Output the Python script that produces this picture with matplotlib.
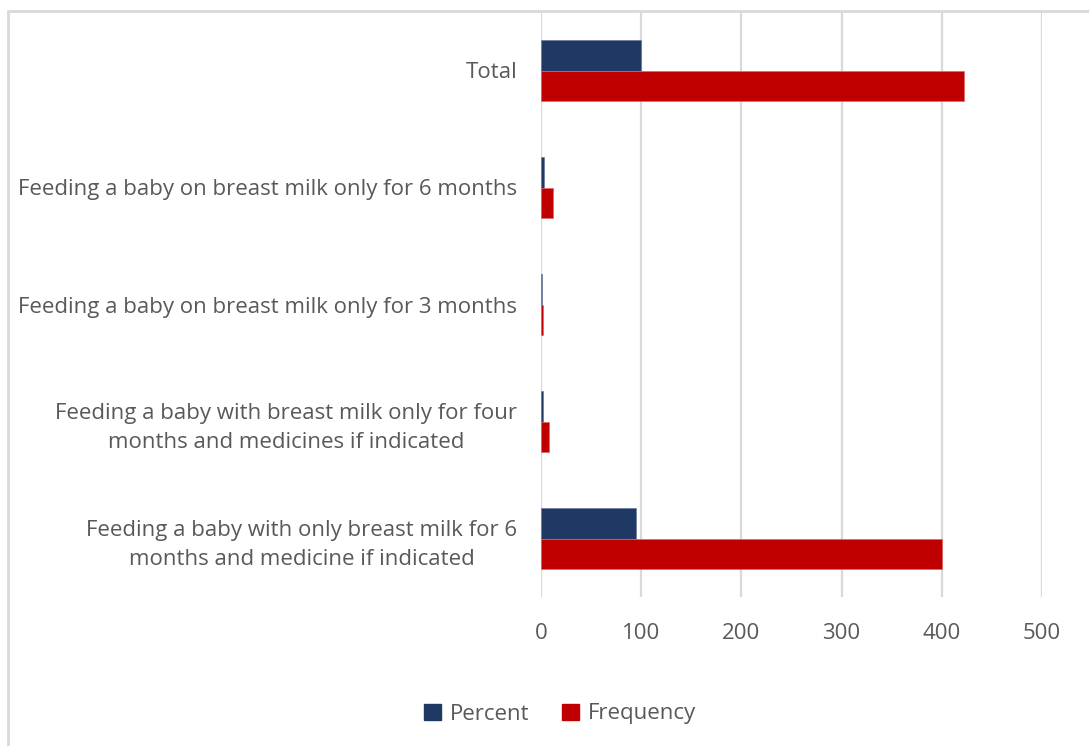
import matplotlib
matplotlib.use('Agg')
import matplotlib.pyplot as plt
import matplotlib.patches as mpatches
import numpy as np

plt.rcParams['font.family'] = ['Open Sans', 'DejaVu Sans']

# categories listed bottom to top
categories = [
    'Feeding a baby with only breast milk for 6\nmonths and medicine if indicated',
    'Feeding a baby with breast milk only for four\nmonths and medicines if indicated',
    'Feeding a baby on breast milk only for 3 months',
    'Feeding a baby on breast milk only for 6 months',
    'Total',
]
frequency = [400, 8, 2, 12, 422]
percent = [94.8, 1.9, 0.5, 2.8, 100]
xticks = [0, 100, 200, 300, 400, 500]

navy = '#203864'
red = '#c00000'
txt = '#595959'
grid = '#d9d9d9'
fs = 16

fig = plt.figure(figsize=(10.89, 7.46), dpi=100)
ax = fig.add_axes([541 / 1089, (746 - 597) / 746, 501 / 1089, 585 / 746])

y = np.arange(len(categories))
h = 0.262
ax.barh(y + h / 2, percent, height=h, color=navy, edgecolor='#6b7ba0', linewidth=0.5, zorder=3, label='Percent')
ax.barh(y - h / 2, frequency, height=h, color=red, edgecolor='#e06666', linewidth=0.5, zorder=3, label='Frequency')

ax.set_xlim(0, 500)
ax.set_ylim(-0.5, len(categories) - 0.5)
ax.set_xticks(xticks)
ax.set_xticklabels([str(v) for v in xticks])
ax.set_yticks(y)
ax.set_yticklabels(categories)
# right-aligned against the axis, two-line labels centred on each other
for lab in ax.get_yticklabels():
    lab.set_horizontalalignment('right')
    lab.set_multialignment('center')
    lab.set_linespacing(1.5)
ax.tick_params(axis='y', length=0, pad=17, labelsize=fs, labelcolor=txt)
ax.tick_params(axis='x', length=0, pad=19, labelsize=fs, labelcolor=txt)
ax.grid(axis='x', color=grid, linewidth=1.6, zorder=0)
for s in ax.spines.values():
    s.set_visible(False)

# chart border
fig.patches.append(mpatches.Rectangle((8 / 1089, -0.01), 1.1, (746 - 11) / 746 + 0.01,
                                      transform=fig.transFigure, fill=False,
                                      edgecolor=grid, linewidth=2.0))

handles = [mpatches.Patch(color=navy), mpatches.Patch(color=red)]
fig.legend(handles, ['Percent', 'Frequency'], loc='center', bbox_to_anchor=(560 / 1089, 1 - 714 / 746),
           ncol=2, frameon=False, fontsize=fs, labelcolor=txt, handlelength=0.75, handleheight=0.75,
           handletextpad=0.4, columnspacing=1.5)

fig.savefig('out.png', dpi=100)
